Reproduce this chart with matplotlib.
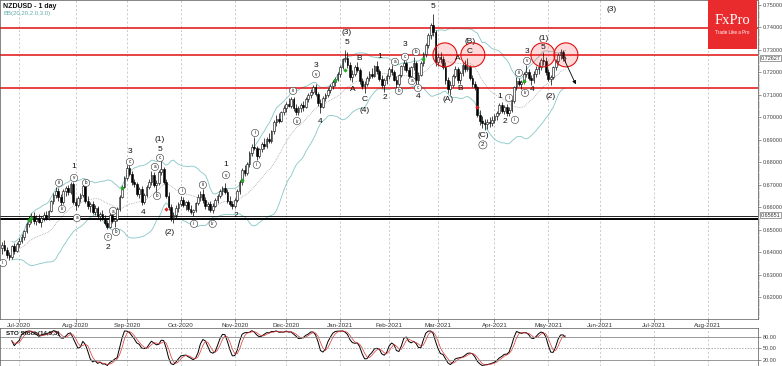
import numpy as np
import pandas as pd
import matplotlib
matplotlib.use('Agg')
import matplotlib.pyplot as plt
from matplotlib.patches import Ellipse, Rectangle
import matplotlib.transforms as mtransforms

# ---------------- data (NZDUSD daily) ----------------
opens = [0.6420,0.6432,0.6410,0.6388,0.6380,0.6428,0.6405,
 0.6438,0.6452,0.6470,0.6495,0.6528,0.6550,0.6562,0.6540,0.6548,0.6535,0.6552,0.6568,0.6550,0.6585,0.6628,0.6655,0.6672,0.6645,0.6625,0.6672,0.6685,0.6668,0.6702,
 0.6625,0.6612,0.6640,0.6655,0.6695,0.6630,0.6605,0.6615,0.6580,0.6598,0.6562,0.6570,0.6552,0.6530,0.6515,0.6568,0.6540,0.6548,0.6592,0.6648,0.6692,
 0.6730,0.6775,0.6750,0.6712,0.6705,0.6660,0.6680,0.6622,0.6655,0.6690,0.6715,0.6745,0.6700,0.6710,0.6758,0.6770,0.6712,0.6652,0.6600,0.6555,0.6568,0.6598,
 0.6615,0.6632,0.6610,0.6622,0.6595,0.6580,0.6588,0.6618,0.6648,0.6660,0.6632,0.6605,0.6615,0.6590,0.6608,0.6632,0.6650,0.6672,0.6685,0.6668,0.6630,0.6615,
 0.6605,0.6632,0.6672,0.6712,0.6765,0.6755,0.6792,0.6842,0.6870,0.6865,0.6830,0.6858,0.6880,0.6872,0.6905,0.6895,0.6938,0.6978,0.6995,0.6985,0.7022,
 0.7040,0.7060,0.7052,0.7080,0.7042,0.7025,0.7040,0.7055,0.7045,0.7082,0.7098,0.7115,0.7135,0.7105,0.7065,0.7045,0.7088,0.7098,0.7122,0.7140,0.7158,0.7172,
 0.7192,0.7225,0.7258,0.7262,0.7235,0.7180,0.7195,0.7225,0.7210,0.7160,0.7140,0.7148,0.7175,0.7195,0.7185,0.7228,0.7205,0.7170,0.7145,0.7165,
 0.7185,0.7215,0.7200,0.7168,0.7150,0.7190,0.7228,0.7240,0.7212,0.7185,0.7222,0.7240,0.7165,0.7190,0.7242,0.7282,0.7320,0.7365,0.7410,0.7378,
 0.7245,0.7270,0.7258,0.7225,0.7165,0.7125,0.7145,0.7185,0.7215,0.7168,0.7198,0.7232,0.7215,0.7225,0.7175,0.7150,0.7135,0.7010,0.6985,0.6975,0.6970,0.6980,0.6975,
 0.6990,0.7005,0.7020,0.7055,0.7030,0.7045,0.7020,0.7035,0.7072,0.7135,0.7160,0.7150,0.7158,0.7192,0.7200,0.7175,0.7165,0.7195,0.7215,0.7225,0.7255,0.7250,
 0.7200,0.7170,0.7180,0.7222,0.7250,0.7278,0.7290,0.7262]

highs = [0.6445,0.6455,0.6425,0.6400,0.6435,0.6440,0.6445,
 0.6465,0.6480,0.6500,0.6535,0.6560,0.6575,0.6580,0.6565,0.6570,0.6560,0.6578,0.6585,0.6590,0.6635,0.6665,0.6690,0.6688,0.6660,0.6680,0.6695,0.6700,0.6712,0.6715,
 0.6640,0.6650,0.6665,0.6705,0.6715,0.6650,0.6625,0.6630,0.6610,0.6605,0.6580,0.6590,0.6565,0.6545,0.6578,0.6575,0.6555,0.6600,0.6655,0.6700,0.6740,
 0.6790,0.6795,0.6760,0.6725,0.6715,0.6690,0.6695,0.6665,0.6700,0.6725,0.6760,0.6758,0.6720,0.6765,0.6808,0.6780,0.6725,0.6670,0.6615,0.6580,0.6610,0.6625,
 0.6650,0.6645,0.6630,0.6635,0.6610,0.6595,0.6625,0.6660,0.6672,0.6680,0.6645,0.6625,0.6630,0.6620,0.6640,0.6660,0.6680,0.6695,0.6710,0.6680,0.6650,0.6630,
 0.6640,0.6680,0.6720,0.6775,0.6790,0.6800,0.6850,0.6880,0.6912,0.6875,0.6865,0.6890,0.6910,0.6915,0.6930,0.6945,0.6990,0.7010,0.7020,0.7030,0.7055,
 0.7070,0.7085,0.7092,0.7090,0.7060,0.7050,0.7065,0.7075,0.7090,0.7110,0.7125,0.7145,0.7148,0.7115,0.7080,0.7095,0.7110,0.7130,0.7150,0.7165,0.7180,0.7200,
 0.7235,0.7265,0.7300,0.7290,0.7248,0.7210,0.7235,0.7248,0.7220,0.7175,0.7160,0.7185,0.7205,0.7220,0.7235,0.7250,0.7215,0.7190,0.7175,0.7195,
 0.7225,0.7235,0.7210,0.7185,0.7195,0.7235,0.7258,0.7250,0.7225,0.7230,0.7270,0.7250,0.7200,0.7250,0.7290,0.7330,0.7375,0.7420,0.7458,0.7390,
 0.7285,0.7290,0.7275,0.7245,0.7180,0.7160,0.7195,0.7230,0.7225,0.7205,0.7240,0.7255,0.7265,0.7235,0.7190,0.7160,0.7140,0.7035,0.7005,0.6995,0.6992,0.7000,0.7005,
 0.7015,0.7030,0.7065,0.7068,0.7055,0.7060,0.7045,0.7080,0.7140,0.7180,0.7175,0.7165,0.7200,0.7235,0.7215,0.7190,0.7205,0.7230,0.7245,0.7265,0.7290,0.7270,
 0.7215,0.7190,0.7230,0.7260,0.7285,0.7305,0.7300,0.7275]

lows = [0.6395,0.6405,0.6375,0.6365,0.6372,0.6395,0.6400,
 0.6425,0.6440,0.6455,0.6488,0.6515,0.6530,0.6525,0.6520,0.6530,0.6515,0.6540,0.6545,0.6545,0.6578,0.6615,0.6640,0.6630,0.6608,0.6615,0.6650,0.6655,0.6660,0.6615,
 0.6590,0.6600,0.6625,0.6645,0.6620,0.6595,0.6580,0.6570,0.6565,0.6555,0.6540,0.6545,0.6520,0.6505,0.6510,0.6530,0.6515,0.6540,0.6585,0.6640,0.6685,
 0.6720,0.6740,0.6700,0.6690,0.6650,0.6640,0.6610,0.6615,0.6645,0.6680,0.6700,0.6690,0.6668,0.6700,0.6745,0.6705,0.6640,0.6590,0.6540,0.6530,0.6555,0.6580,
 0.6605,0.6600,0.6590,0.6585,0.6570,0.6560,0.6580,0.6610,0.6630,0.6620,0.6595,0.6590,0.6580,0.6575,0.6600,0.6620,0.6640,0.6655,0.6660,0.6620,0.6605,0.6595,
 0.6598,0.6625,0.6660,0.6700,0.6740,0.6745,0.6780,0.6830,0.6855,0.6810,0.6820,0.6845,0.6860,0.6865,0.6885,0.6888,0.6925,0.6960,0.6975,0.6980,0.7010,
 0.7025,0.7045,0.7040,0.7030,0.7010,0.7012,0.7025,0.7030,0.7040,0.7070,0.7085,0.7105,0.7095,0.7050,0.7020,0.7040,0.7075,0.7090,0.7110,0.7125,0.7140,0.7160,
 0.7180,0.7215,0.7245,0.7220,0.7165,0.7158,0.7185,0.7200,0.7150,0.7125,0.7110,0.7138,0.7160,0.7175,0.7180,0.7195,0.7160,0.7130,0.7112,0.7150,
 0.7170,0.7190,0.7160,0.7130,0.7140,0.7180,0.7210,0.7200,0.7175,0.7178,0.7210,0.7150,0.7142,0.7185,0.7230,0.7270,0.7310,0.7350,0.7360,0.7230,
 0.7230,0.7240,0.7215,0.7150,0.7110,0.7100,0.7135,0.7175,0.7155,0.7150,0.7185,0.7200,0.7205,0.7165,0.7135,0.7120,0.7000,0.6965,0.6955,0.6945,0.6950,0.6958,0.6960,
 0.6975,0.6990,0.7010,0.7020,0.7015,0.7005,0.7008,0.7025,0.7065,0.7120,0.7140,0.7128,0.7150,0.7180,0.7165,0.7142,0.7155,0.7180,0.7195,0.7210,0.7235,0.7190,
 0.7160,0.7145,0.7170,0.7210,0.7235,0.7260,0.7250,0.7248]

closes = [0.6432,0.6410,0.6388,0.6380,0.6428,0.6405,0.6438,
 0.6452,0.6470,0.6495,0.6528,0.6550,0.6562,0.6540,0.6548,0.6535,0.6552,0.6568,0.6550,0.6585,0.6628,0.6655,0.6672,0.6645,0.6625,0.6672,0.6685,0.6668,0.6702,0.6625,
 0.6612,0.6640,0.6655,0.6695,0.6630,0.6605,0.6615,0.6580,0.6598,0.6562,0.6570,0.6552,0.6530,0.6515,0.6568,0.6540,0.6548,0.6592,0.6648,0.6692,0.6730,
 0.6775,0.6750,0.6712,0.6705,0.6660,0.6680,0.6622,0.6655,0.6690,0.6715,0.6745,0.6700,0.6710,0.6758,0.6770,0.6712,0.6652,0.6600,0.6555,0.6568,0.6598,0.6615,
 0.6632,0.6610,0.6622,0.6595,0.6580,0.6588,0.6618,0.6648,0.6660,0.6632,0.6605,0.6615,0.6590,0.6608,0.6632,0.6650,0.6672,0.6685,0.6668,0.6630,0.6615,0.6605,
 0.6632,0.6672,0.6712,0.6765,0.6755,0.6792,0.6842,0.6870,0.6865,0.6830,0.6858,0.6880,0.6872,0.6905,0.6895,0.6938,0.6978,0.6995,0.6985,0.7022,0.7040,
 0.7060,0.7052,0.7080,0.7042,0.7025,0.7040,0.7055,0.7045,0.7082,0.7098,0.7115,0.7135,0.7105,0.7065,0.7045,0.7088,0.7098,0.7122,0.7140,0.7158,0.7172,0.7192,
 0.7225,0.7258,0.7262,0.7235,0.7180,0.7195,0.7225,0.7210,0.7160,0.7140,0.7148,0.7175,0.7195,0.7185,0.7228,0.7205,0.7170,0.7145,0.7165,0.7185,
 0.7215,0.7200,0.7168,0.7150,0.7190,0.7228,0.7240,0.7212,0.7185,0.7222,0.7240,0.7165,0.7190,0.7242,0.7282,0.7320,0.7365,0.7410,0.7378,0.7245,
 0.7270,0.7258,0.7225,0.7165,0.7125,0.7145,0.7185,0.7215,0.7168,0.7198,0.7232,0.7215,0.7225,0.7175,0.7150,0.7135,0.7010,0.6985,0.6975,0.6970,0.6980,0.6975,0.6990,
 0.7005,0.7020,0.7055,0.7030,0.7045,0.7020,0.7035,0.7072,0.7135,0.7160,0.7150,0.7158,0.7192,0.7200,0.7175,0.7165,0.7195,0.7215,0.7225,0.7255,0.7250,0.7200,
 0.7170,0.7180,0.7222,0.7250,0.7278,0.7290,0.7262,0.7263]

start_date = '2020-06-22'
end_axis_date = '2021-08-31'
skip_days = ['2020-12-25', '2021-01-01']

# horizontal levels
red_levels = [0.7396, 0.7278, 0.7131]
black_levels = [0.6563, 0.6550]
circle_centers = [180.8, 192.2, 220.8, 230.2]
circle_level = 0.7278

green_sig_idx = [11, 12, 49, 98, 136, 140, 172, 213]
green_sig_px = [0.6544, 0.6553, 0.6687, 0.6722, 0.7167, 0.7211, 0.7260, 0.7162]
red_sig_idx = [67, 194]
red_sig_px = [0.6593, 0.7047]

wave_text = ["1","2","3","4","5","(1)","(2)","1","2","3","4","5","(3)","A","B","C","(4)","1","2","3","4","5",
             "(A)","A","B","(B)","C","(C)","1","2","3","4","5","(1)","(2)","(3)"]
wave_x = [29.4,43.3,52.2,57.6,64.5,64.5,68.6,91.4,95.5,128.2,130,140.8,140.8,143.3,146,148.2,148.2,154.3,156.3,164.5,169.8,176,
          182,186,187,191,191,196.3,203.3,205.3,214.3,216.3,221,221,224,249]
wave_y = [0.6780,0.6424,0.6847,0.6576,0.6856,0.6900,0.6489,0.6789,0.6562,0.7233,0.6980,0.7331,0.7376,0.7122,0.7260,0.7078,0.7033,0.7269,0.7087,0.7322,0.7091,0.7491,
          0.7078,0.7264,0.7127,0.7336,0.7291,0.6918,0.7091,0.6980,0.7291,0.7122,0.7309,0.7353,0.7091,0.7478]

circ_text = ["ii","iii","iv","v","a","b","c","a","b","c","a","b","c","i","ii","iii","iv","v","i","ii","iii","iv","v",
             "a","b","c","a","b","c","i","ii","iii","iv","v","2"]
circ_x = [0.4,23.3,24.5,29.4,30.6,34.3,43.3,45.3,46.5,52.2,62.4,63.3,64.5,73.5,78.4,82,86,91.4,103.3,104,118.8,120.4,128.2,
          160.4,162,164.5,167.3,169,169.8,207,209.4,211,213.5,214.3,196.3]
circ_y = [0.6353,0.6709,0.6593,0.6731,0.6553,0.6709,0.6469,0.6584,0.6491,0.6802,0.6780,0.6651,0.6820,0.6673,0.6527,0.6700,0.6527,0.6744,0.6931,0.6789,0.7118,0.6984,0.7193,
          0.7247,0.7118,0.7269,0.7162,0.7291,0.7131,0.7087,0.6989,0.7198,0.7109,0.7251,0.6878]

# ---------------- derived series ----------------
n = len(closes)
assert len(opens) == n and len(highs) == n and len(lows) == n
dates = pd.bdate_range(start_date, end_axis_date)
dates = dates[~dates.isin(pd.to_datetime(skip_days))]
idx = np.arange(n)

c = pd.Series(closes)
h = pd.Series(highs)
l = pd.Series(lows)
mid = c.rolling(20, min_periods=5).mean()
sd = c.rolling(20, min_periods=5).std(ddof=0)
upper = mid + 2 * sd
lower = mid - 2 * sd

ll = l.rolling(14, min_periods=5).min()
hh = h.rolling(14, min_periods=5).max()
fast = 100 * (c - ll) / (hh - ll)
k = fast.rolling(3, min_periods=1).mean()
d = k.rolling(3, min_periods=1).mean()

# month ticks
month_pos, month_lab = [], []
prev = None
for i, dt in enumerate(dates):
    key = (dt.year, dt.month)
    if key != prev:
        if not (dt.year == 2020 and dt.month == 6):
            month_pos.append(i)
            month_lab.append(dt.strftime('%b-%Y'))
        prev = key

# ---------------- figure ----------------
W, H = 782, 366
fig = plt.figure(figsize=(W / 100, H / 100), dpi=100)
plt.rcParams['font.family'] = ['Liberation Sans', 'DejaVu Sans']

def px_axes(x0, y0, x1, y1):
    return fig.add_axes([x0 / W, 1 - y1 / H, (x1 - x0) / W, (y1 - y0) / H])

ax = px_axes(0, 0, 758, 319)
ax2 = px_axes(0, 328, 758, 366)
xlim = (-0.82, 308.6)

# grid
for a in (ax, ax2):
    for mp in month_pos:
        a.axvline(mp, color='#b8b8b8', lw=0.5, ls=(0, (3, 3)), zorder=0)

# bollinger
ax.plot(idx, upper, color='#86c6c6', lw=0.6, zorder=1)
ax.plot(idx, lower, color='#86c6c6', lw=0.6, zorder=1)
ax.plot(idx, mid, color='#8a8a8a', lw=0.5, ls=(0, (1, 1.5)), zorder=1)

# levels
for lv in red_levels:
    ax.axhline(lv, color='#e01010', lw=1.1, zorder=2)
ax.axhline(black_levels[0], color='black', lw=0.6, zorder=2)
ax.axhline(black_levels[1], color='black', lw=1.4, zorder=2)

# candles
o = np.array(opens); cc = np.array(closes)
up = cc >= o
ax.vlines(idx, lows, highs, color='black', lw=0.5, zorder=3)
body_bot = np.minimum(o, cc)
body_h = np.maximum(np.abs(cc - o), 0.00015)
ax.bar(idx[up], body_h[up], bottom=body_bot[up], width=0.7, color='white',
       edgecolor='black', linewidth=0.4, zorder=4)
ax.bar(idx[~up], body_h[~up], bottom=body_bot[~up], width=0.7, color='black',
       edgecolor='black', linewidth=0.4, zorder=4)

# signals
ax.scatter(green_sig_idx, green_sig_px, marker='D', s=5, color='#22aa22', zorder=5, linewidths=0)
ax.scatter(red_sig_idx, red_sig_px, marker='D', s=5, color='#dd2222', zorder=5, linewidths=0)

# circles
cw = 24 / 2.45
chh = 24 / 2250
for cx in circle_centers:
    ax.add_patch(Ellipse((cx, circle_level), cw, chh, facecolor=(1, 0.2, 0.2, 0.18),
                         edgecolor='#e01010', lw=0.8, zorder=6))

# arrow
ax.annotate('', xy=(234.7, 0.7136), xytext=(229.0, 0.7269),
            arrowprops=dict(arrowstyle='-|>', color='black', lw=0.6, mutation_scale=5), zorder=7)

# wave labels
for t, x, y in zip(wave_text, wave_x, wave_y):
    ax.text(x, y, t, fontsize=6, ha='center', va='center', color='#111111', zorder=8)
for t, x, y in zip(circ_text, circ_x, circ_y):
    fs = 4.5 if t == "2" else 3.3
    ax.text(x, y, t, fontsize=fs, ha='center', va='center', color='#111111', zorder=8,
            bbox=dict(boxstyle='circle,pad=0.25', fc='white', ec='#333333', lw=0.4))

# main axis styling
ax.set_xlim(*xlim)
ax.set_ylim(0.6104, 0.7522)
ax.yaxis.tick_right()
yt = np.round(np.arange(0.62, 0.7501, 0.01), 2)
ax.set_yticks(yt)
ax.set_yticklabels([f"{v:.5f}" for v in yt])
ax.set_yticks(np.arange(0.611, 0.752, 0.001), minor=True)
ax.tick_params(axis='y', labelsize=4, length=2.5, width=0.4, pad=1.2, colors='#444444')
ax.tick_params(axis='y', which='minor', length=1.2, width=0.3, colors='#666666')
ax.set_xticks(month_pos)
ax.set_xticklabels(month_lab)
ax.tick_params(axis='x', labelsize=4.5, length=2, width=0.4, pad=1, colors='#333333')
for s in ax.spines.values():
    s.set_linewidth(0.5)
    s.set_color('#555555')

# price boxes
trans = mtransforms.blended_transform_factory(ax.transAxes, ax.transData)
for val in (0.72627, 0.65651):
    ax.text(1.003, val, f'{val:.5f}', transform=trans, fontsize=4, va='center', ha='left',
            color='#333333', bbox=dict(boxstyle='square,pad=0.1', fc='white', ec='#555555', lw=0.4),
            zorder=9, clip_on=False)

# stochastic panel
ax2.plot(idx, k, color='black', lw=0.7)
ax2.plot(idx, d, color='#dd3333', lw=0.5)
ax2.axhline(80, color='#888888', lw=0.6)
ax2.axhline(20, color='#888888', lw=0.6)
ax2.axhline(50, color='#888888', lw=0.5, ls=(0, (2, 2)))
ax2.set_xlim(*xlim)
ax2.set_ylim(4.3, 103.5)
ax2.yaxis.tick_right()
ax2.set_yticks([20, 50, 80])
ax2.set_yticklabels(['20.00', '50.00', '80.00'])
ax2.tick_params(axis='y', labelsize=4, length=2, width=0.4, pad=1.2, colors='#444444')
ax2.set_xticks([])
for s in ax2.spines.values():
    s.set_linewidth(0.5)
    s.set_color('#555555')
ax2.text(0.008, 0.93, 'STO Stoch(14,3,3)', transform=ax2.transAxes, fontsize=4.5,
         va='top', ha='left', color='#111111', fontweight='bold')

# titles
fig.text(3 / W, 1 - 6 / H, 'NZDUSD - 1 day', fontsize=5, va='center', ha='left',
         color='#111111', fontweight='bold')
fig.text(4 / W, 1 - 13 / H, 'BB(20,20,2.0,3.0)', fontsize=4.3, va='center', ha='left', color='#66aaaa')

# FxPro logo
fig.patches.append(Rectangle((708 / W, 1 - 49 / H), 49 / W, 49 / H, transform=fig.transFigure,
                             facecolor='#ea2b2e', edgecolor='none', zorder=10))
fig.text(732.5 / W, 1 - 21 / H, 'FxPro', fontsize=10.5, color='white', ha='center', va='center',
         family=['Liberation Serif', 'DejaVu Serif'], zorder=11)
fig.text(732.5 / W, 1 - 32 / H, 'Trade Like a Pro', fontsize=3.3, color='white', ha='center',
         va='center', zorder=11)

fig.savefig('out.png', dpi=100, facecolor='white')
